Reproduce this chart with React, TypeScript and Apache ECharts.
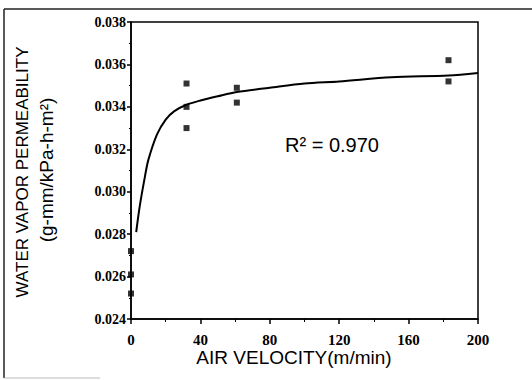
import React, { useEffect, useRef } from "react";
import * as echarts from "echarts";

const xTicks = [0, 40, 80, 120, 160, 200];
const pointsX = [0, 0, 0, 32, 32, 32, 61, 61, 183, 183];
const pointsY = [0.0272, 0.0261, 0.0252, 0.0351, 0.0340, 0.0330, 0.0349, 0.0342, 0.0362, 0.0352];
const fitX = [3, 5, 8, 10, 15, 20, 25, 32, 40, 50, 61, 80, 100, 120, 150, 183, 200];
const fitY = [0.0281, 0.0293, 0.0307, 0.0315, 0.0327, 0.0334, 0.0338, 0.0341, 0.0343, 0.0345, 0.0347, 0.0349, 0.0351, 0.0352, 0.0354, 0.03548, 0.0356];

export default function App() {
  const ref = useRef<HTMLDivElement>(null);
  useEffect(() => {
    document.body.style.margin = "0";
    const chart = echarts.init(ref.current!, undefined, { renderer: "svg" });
    const serif = "Liberation Serif";
    const sans = "Liberation Sans";
    chart.setOption({
      animation: false,
      backgroundColor: "#fff",
      textStyle: { fontFamily: sans },
      grid: {
        left: 131,
        right: 54,
        top: 22,
        bottom: 61,
        show: true,
        borderColor: "#000",
        borderWidth: 1.5,
        backgroundColor: "transparent",
      },
      xAxis: {
        type: "value",
        min: 0,
        max: 200,
        interval: 40,
        axisLine: { show: true, lineStyle: { color: "#000", width: 1.5 } },
        axisTick: { show: true, inside: false, length: 5, lineStyle: { color: "#000", width: 1.5 } },
        minorTick: { show: true, splitNumber: 2, length: 3, lineStyle: { color: "#000" } },
        splitLine: { show: false },
        axisLabel: {
          color: "#000",
          fontFamily: serif,
          fontWeight: "bold",
          fontSize: 15,
          margin: 13,
          formatter: (v: number) => (xTicks.includes(v) ? String(v) : ""),
        },
      },
      yAxis: {
        type: "value",
        min: 0.024,
        max: 0.038,
        interval: 0.002,
        axisLine: { show: true, lineStyle: { color: "#000", width: 1.5 } },
        axisTick: { show: true, inside: false, length: 4, lineStyle: { color: "#000", width: 1.5 } },
        minorTick: { show: true, splitNumber: 2, length: 2, lineStyle: { color: "#000" } },
        splitLine: { show: false },
        axisLabel: {
          color: "#000",
          fontFamily: serif,
          fontWeight: "bold",
          fontSize: 14,
          margin: 5,
          formatter: (v: number) => v.toFixed(3),
        },
      },
      series: [
        {
          type: "line",
          data: fitX.map((x, i) => [x, fitY[i]]),
          smooth: 0.3,
          showSymbol: false,
          symbol: "none",
          lineStyle: { color: "#000", width: 2 },
          z: 2,
        },
        {
          type: "scatter",
          data: pointsX.map((x, i) => [x, pointsY[i]]),
          symbol: "rect",
          symbolSize: 6,
          itemStyle: { color: "#000" },
          z: 3,
        },
      ],
      graphic: [
        { type: "line", shape: { x1: 4, y1: 9, x2: 532, y2: 9 }, style: { stroke: "#222", lineWidth: 1.5 } },
        { type: "line", shape: { x1: 4, y1: 9, x2: 4, y2: 378 }, style: { stroke: "#222", lineWidth: 1.5 } },
        { type: "line", shape: { x1: 4, y1: 378, x2: 100, y2: 378 }, style: { stroke: "#bbb", lineWidth: 1 } },
        {
          type: "text",
          x: 22,
          y: 172,
          rotation: Math.PI / 2,
          style: {
            text: "WATER VAPOR PERMEABILITY",
            fontSize: 17,
            fontFamily: sans,
            fill: "#000",
            align: "center",
            verticalAlign: "middle",
          },
        },
        {
          type: "text",
          x: 46,
          y: 170,
          rotation: Math.PI / 2,
          style: {
            text: "(g-mm/kPa-h-m²)",
            fontSize: 19,
            fontFamily: sans,
            fill: "#000",
            align: "center",
            verticalAlign: "middle",
          },
        },
        {
          type: "text",
          x: 294,
          y: 357,
          style: {
            text: "AIR VELOCITY(m/min)",
            fontSize: 19,
            fontFamily: sans,
            fill: "#000",
            align: "center",
            verticalAlign: "middle",
          },
        },
        {
          type: "text",
          x: 332,
          y: 145,
          style: {
            text: "R² = 0.970",
            fontSize: 20,
            fontFamily: sans,
            fill: "#000",
            align: "center",
            verticalAlign: "middle",
          },
        },
      ],
    });
    return () => chart.dispose();
  }, []);
  return <div ref={ref} style={{ width: 532, height: 380, position: "absolute", left: 0, top: 0 }} />;
}
